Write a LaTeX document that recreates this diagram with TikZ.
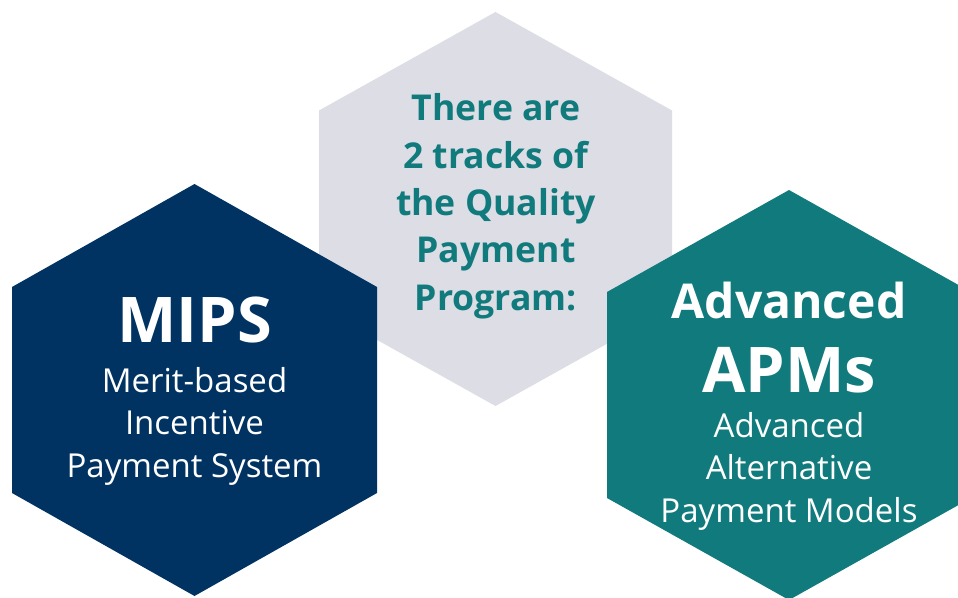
\documentclass[tikz,border=0pt]{standalone}
\usepackage{fontspec}
\setmainfont{Open Sans}
\usepackage{xcolor}
\definecolor{mipsblue}{HTML}{003262}
\definecolor{apmteal}{HTML}{107A7C}
\definecolor{hexgray}{HTML}{DCDDE5}

\begin{document}
\begin{tikzpicture}[x=1pt,y=-1pt]
  \tikzstyle{title node}=[anchor=base,inner sep=0,text=white,font=\bfseries]
  \tikzstyle{sub node}=[anchor=base,inner sep=0,text=white,align=center,
    font=\fontsize{33}{42.5}\selectfont]
  \useasboundingbox (0,0) rectangle (958,597);
  \fill[hexgray] (495.5,12) -- (672,110.5) -- (672,307.5) -- (495.5,406)
    -- (319,307.5) -- (319,110.5) -- cycle;
  \fill[mipsblue] (194.5,184) -- (377,287) -- (377,493) -- (194.5,596)
    -- (12,493) -- (12,287) -- cycle;
  \fill[apmteal] (789,190) -- (971,292) -- (971,498) -- (789,600)
    -- (607,498) -- (607,292) -- cycle;
  \node(track)[anchor=base,inner sep=0,text=apmteal,align=center,
    font=\fontsize{35.6}{47.3}\selectfont\bfseries] at (496,310)
    {There are\\2 tracks of\\the Quality\\Payment\\Program:};
  \node(mips)[title node,font=\fontsize{63}{63}\selectfont\bfseries]
    at (194.5,342) {MIPS};
  \node(mipsdesc)[sub node] at (194.5,477)
    {Merit-based\\Incentive\\Payment System};
  \node(adv)[title node,font=\fontsize{48}{48}\selectfont\bfseries]
    at (789,318) {Advanced};
  \node(apms)[title node,font=\fontsize{63}{63}\selectfont\bfseries]
    at (789,392) {APMs};
  \node(apmdesc)[sub node] at (789,522)
    {Advanced\\Alternative\\Payment Models};
\end{tikzpicture}
\end{document}
